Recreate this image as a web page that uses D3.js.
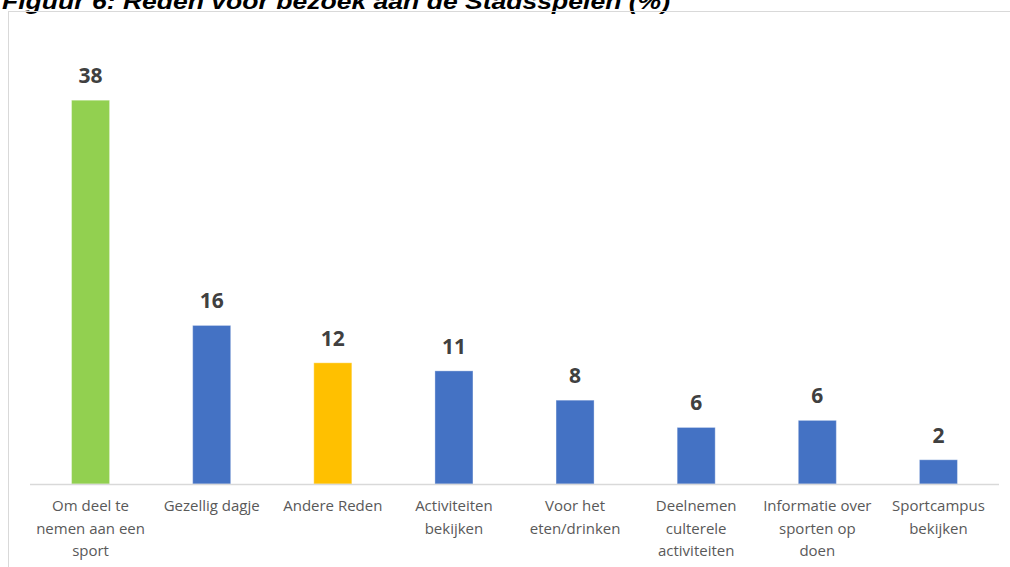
<!DOCTYPE html>
<html>
<head>
<meta charset="utf-8">
<script src="https://cdn.jsdelivr.net/npm/d3@7"></script>
<style>
  body { margin: 0; background: #fff; }
  svg { display: block; }
</style>
</head>
<body>
<div id="chart"></div>
<script>
// data
var categories = [
    "Om deel te\nnemen aan een\nsport",
    "Gezellig dagje",
    "Andere Reden",
    "Activiteiten\nbekijken",
    "Voor het\neten/drinken",
    "Deelnemen\nculterele\nactiviteiten",
    "Informatie over\nsporten op\ndoen",
    "Sportcampus\nbekijken"
];
var values = [38, 15.7, 12, 11.2, 8.3, 5.6, 6.3, 2.4];
var barColors = ["#92D050", "#4472C4", "#FFC000", "#4472C4", "#4472C4", "#4472C4", "#4472C4", "#4472C4"];
var title = "Figuur 6: Reden voor bezoek aan de Stadsspelen (%)";

var width = 1010, height = 567;
var svg = d3.select("#chart").append("svg").attr("width", width).attr("height", height);

// title, cut off at the top in the original
svg.append("text")
    .attr("x", 2)
    .attr("y", 9)
    .attr("textLength", 668)
    .attr("lengthAdjust", "spacingAndGlyphs")
    .style("font-family", "'Liberation Sans', Arial, sans-serif")
    .style("font-weight", "bold")
    .style("font-style", "italic")
    .style("font-size", "22px")
    .style("fill", "#000")
    .text(title);

// chart frame
svg.append("rect")
    .attr("x", 8.5).attr("y", 11.5)
    .attr("width", 1020).attr("height", 580)
    .style("fill", "none")
    .style("stroke", "#d9d9d9")
    .style("stroke-width", 1);

var x = d3.scaleBand()
    .domain(categories)
    .range([30, 999])
    .paddingInner(0.686)
    .paddingOuter(0.343);

var y = d3.scaleLinear().domain([0, 40]).range([484, 80]);

var g = svg.append("g");

g.selectAll("rect.bar")
    .data(values)
    .enter()
    .append("rect")
    .attr("class", "bar")
    .attr("x", function(d, i) { return x(categories[i]); })
    .attr("y", function(d) { return y(d); })
    .attr("width", x.bandwidth())
    .attr("height", function(d) { return y(0) - y(d); })
    .style("fill", function(d, i) { return barColors[i]; })
    .style("stroke", "#ffffff")
    .style("stroke-opacity", 0.35)
    .style("stroke-width", 1);

// baseline
g.append("line")
    .attr("x1", 30).attr("x2", 999)
    .attr("y1", y(0) + 0.5).attr("y2", y(0) + 0.5)
    .style("stroke", "#d9d9d9")
    .style("stroke-width", 1.5);

// value labels
g.selectAll("text.val")
    .data(values)
    .enter()
    .append("text")
    .attr("class", "val")
    .attr("x", function(d, i) { return x(categories[i]) + x.bandwidth() / 2; })
    .attr("y", function(d) { return y(d) - 17; })
    .attr("text-anchor", "middle")
    .style("font-family", "'Open Sans', 'Noto Sans', sans-serif")
    .style("font-weight", "bold")
    .style("font-size", "21px")
    .style("fill", "#404040")
    .text(function(d) { return d3.format(".0f")(d); });

// category labels
var lab = g.selectAll("text.cat")
    .data(categories)
    .enter()
    .append("text")
    .attr("class", "cat")
    .attr("text-anchor", "middle")
    .attr("x", function(d) { return x(d) + x.bandwidth() / 2; })
    .attr("y", 511)
    .style("font-family", "'Open Sans', 'Noto Sans', sans-serif")
    .style("font-size", "15px")
    .style("fill", "#595959");

lab.each(function(d) {
    var t = d3.select(this);
    d.split("\n").forEach(function(line, i) {
        t.append("tspan")
            .attr("x", t.attr("x"))
            .attr("dy", i == 0 ? 0 : 22.5)
            .text(line);
    });
});
</script>
</body>
</html>
